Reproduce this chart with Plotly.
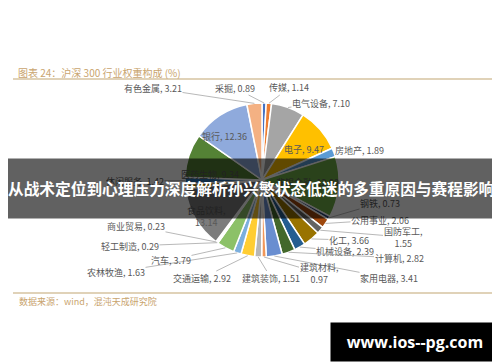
import math
import plotly.graph_objects as go

W, H = 500, 362

# ---- data ----
industries = ["采掘", "传媒", "电气设备", "电子", "房地产", "非银金融", "钢铁", "公用事业",
              "国防军工", "化工", "机械设备", "计算机", "家用电器", "建筑材料", "建筑装饰",
              "交通运输", "农林牧渔", "汽车", "轻工制造", "商业贸易", "食品饮料", "通信",
              "休闲服务", "医药生物", "银行", "有色金属"]
weights = [0.89, 1.14, 7.10, 9.47, 1.89, 12.99, 0.73, 2.06,
           1.55, 3.66, 2.39, 2.82, 3.41, 0.97, 1.51,
           2.92, 1.63, 3.79, 0.29, 0.23, 13.14, 1.10,
           1.42, 9.34, 12.36, 3.21]
colors = ["#4472C4", "#ED7D31", "#A5A5A5", "#FFC000", "#5B9BD5", "#70AD47", "#264478", "#9E480E",
          "#636363", "#997300", "#255E91", "#43682B", "#698ED0", "#F1975A", "#B7B7B7",
          "#FFCD33", "#7CAFDD", "#8CC168", "#335AA1", "#D26012", "#7C7C7C", "#BF9000",
          "#2E75B6", "#548235", "#8FAADC", "#F4B183"]

title_text = "图表 24：沪深 300 行业权重构成 (%)"
source_text = "数据来源：wind，混沌天成研究院"
banner_text = "从战术定位到心理压力深度解析孙兴慜状态低迷的多重原因与赛程影响"
watermark_text = "www.ios--pg.com"

# ---- layout: pie geometry and label placement (pixels) ----
CX, CY, R = 254, 172, 77
wrapped = {"国防军工", "建筑材料", "食品饮料"}
inside = {"电子", "非银金融", "食品饮料", "医药生物", "银行"}
hidden = {"通信"}
label_pos = {
    "采掘": (227, 80), "传媒": (281, 80), "电气设备": (313, 95), "电子": (296, 141),
    "房地产": (351, 142), "非银金融": (299, 174), "钢铁": (372, 195), "公用事业": (372, 212),
    "国防军工": (395, 229), "化工": (341, 232), "机械设备": (337, 243), "计算机": (391, 250),
    "家用电器": (381, 270), "建筑材料": (311, 265), "建筑装饰": (263, 270), "交通运输": (194, 270),
    "农林牧渔": (108, 264), "汽车": (163, 252), "轻工制造": (122, 238), "商业贸易": (128, 218),
    "食品饮料": (198, 208), "休闲服务": (127, 173), "医药生物": (202, 166), "银行": (216, 128),
    "有色金属": (145, 80),
}

fig = go.Figure(go.Pie(
    labels=industries, values=weights, sort=False, direction="clockwise", rotation=0,
    marker=dict(colors=colors, line=dict(color="white", width=1.5)),
    textinfo="none", hoverinfo="none", showlegend=False,
    domain=dict(x=[(CX - R) / W, (CX + R) / W], y=[1 - (CY + R) / H, 1 - (CY - R) / H]),
))

annotations = []
total = sum(weights)
cum = 0.0
for name, v in zip(industries, weights):
    mid = (cum + v / 2) / total * 2 * math.pi
    cum += v
    if name in hidden:
        continue
    sep = ",<br>" if name in wrapped else ", "
    txt = f"{name}{sep}{v:.2f}"
    lx, ly = label_pos[name]
    font = dict(family="Noto Sans CJK SC", size=9, color="#595959")
    if name in inside:
        annotations.append(dict(x=lx / W, y=1 - ly / H, xref="paper", yref="paper",
                                text=txt, showarrow=False, font=font,
                                xanchor="center", yanchor="middle"))
    else:
        px = CX + R * math.sin(mid)
        py = CY - R * math.cos(mid)
        annotations.append(dict(x=px / W, y=1 - py / H, xref="paper", yref="paper",
                                text=txt, showarrow=True, arrowhead=0, arrowwidth=0.8,
                                arrowcolor="#A6A6A6", standoff=0, startstandoff=0,
                                ax=lx - px, ay=ly - py, borderpad=0, font=font))

annotations.append(dict(x=8 / W, y=1 - 64 / H, xref="paper", yref="paper", text=title_text,
                        showarrow=False, xanchor="left", yanchor="middle",
                        font=dict(family="Noto Sans CJK SC", size=10, color="#C9A46E")))
annotations.append(dict(x=9 / W, y=1 - 293 / H, xref="paper", yref="paper", text=source_text,
                        showarrow=False, xanchor="left", yanchor="middle",
                        font=dict(family="Noto Sans CJK SC", size=9, color="#C9A46E")))
annotations.append(dict(x=0.5, y=1 - 180.5 / H, xref="paper", yref="paper", text="",
                        showarrow=False, xanchor="center", yanchor="middle",
                        width=520, height=59, bgcolor="rgba(0,0,0,0.62)", borderpad=0))
annotations.append(dict(x=243 / W, y=1 - 180 / H, xref="paper", yref="paper", text=banner_text,
                        showarrow=False, xanchor="center", yanchor="middle", borderpad=0,
                        font=dict(family="Noto Sans CJK SC", size=15.7, color="white", weight=700)))
annotations.append(dict(x=407 / W, y=1 - 334 / H, xref="paper", yref="paper", text=watermark_text,
                        showarrow=False, xanchor="center", yanchor="middle",
                        width=168, height=38, bgcolor="black", borderpad=0,
                        font=dict(family="Open Sans", size=16, color="white", weight=700)))

shapes = [
    dict(type="line", xref="paper", yref="paper", x0=5 / W, x1=497 / W, y0=1 - 71 / H, y1=1 - 71 / H,
         line=dict(color="#D6C3A0", width=1.5)),
    dict(type="line", xref="paper", yref="paper", x0=5 / W, x1=497 / W, y0=1 - 285 / H, y1=1 - 285 / H,
         line=dict(color="#D6C3A0", width=1.5)),
]

fig.update_layout(width=W, height=H, margin=dict(l=0, r=0, t=0, b=0),
                  paper_bgcolor="white", plot_bgcolor="white",
                  annotations=annotations, shapes=shapes)
fig.write_html("out.html")
